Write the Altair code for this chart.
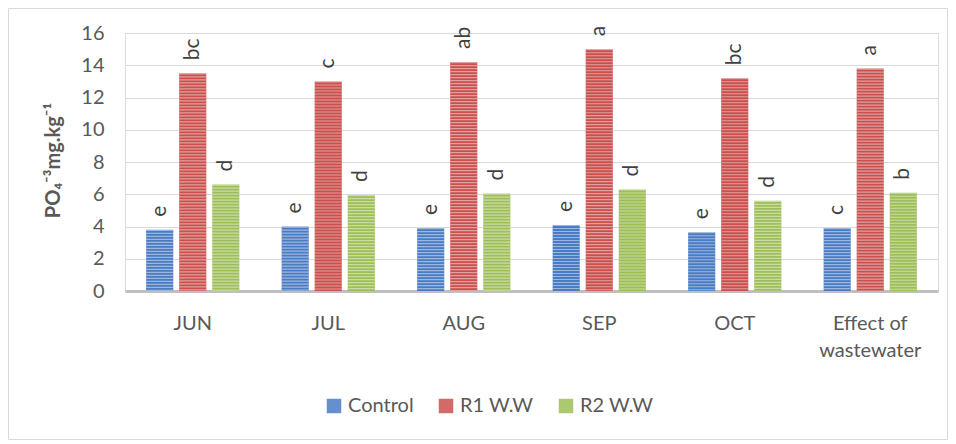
import altair as alt
import pandas as pd

months = ["JUN", "JUL", "AUG", "SEP", "OCT", "Effect of\nwastewater"]
series = ["Control", "R1 W.W", "R2 W.W"]
control = [3.8, 4.0, 3.9, 4.1, 3.65, 3.9]
r1 = [13.5, 13.0, 14.2, 15.0, 13.2, 13.8]
r2 = [6.6, 5.95, 6.05, 6.3, 5.6, 6.1]
let_control = ["e", "e", "e", "e", "e", "c"]
let_r1 = ["bc", "c", "ab", "a", "bc", "a"]
let_r2 = ["d", "d", "d", "d", "d", "b"]
colors = ["#4a7cc4", "#c9504d", "#9ebf58"]

rows = []
for i, m in enumerate(months):
    for s, vals, lets in zip(series, [control, r1, r2], [let_control, let_r1, let_r2]):
        rows.append({"month": m, "series": s, "value": vals[i], "letter": lets[i]})
df = pd.DataFrame(rows)

FONT = "Lato, DejaVu Sans, sans-serif"

x = alt.X("month:N", sort=months,
          scale=alt.Scale(paddingInner=0, paddingOuter=0),
          axis=alt.Axis(title=None, labelExpr="split(datum.label, '\\n')",
                        labelAngle=0, labelFontSize=20, labelColor="#595959",
                        labelFont=FONT, labelPadding=22, labelLineHeight=27,
                        ticks=False, domainColor="#bfbfbf", domainWidth=3))
xo = alt.XOffset("series:N", sort=series,
                 scale=alt.Scale(paddingInner=0.18, paddingOuter=0.64))
y = alt.Y("value:Q", scale=alt.Scale(domain=[0, 16]),
          axis=alt.Axis(values=list(range(0, 17, 2)), title="PO₄⁻³mg.kg⁻¹",
                        titleFont=FONT, titleFontSize=20, titleFontWeight="bold",
                        titleColor="#595959", titleX=-72, titleY=127,
                        titleAlign="center", titleBaseline="middle", titleAngle=270,
                        labelFontSize=20, labelColor="#595959", labelFont=FONT,
                        labelPadding=21, ticks=False, domain=False,
                        gridColor="#d9d9d9", gridWidth=1))

base = alt.Chart(df)

bars = base.mark_bar().encode(
    x=x, xOffset=xo, y=y,
    color=alt.Color("series:N", sort=series,
                    scale=alt.Scale(domain=series, range=colors),
                    legend=alt.Legend(title=None, orient="none", direction="horizontal",
                                      legendX=199, legendY=363, symbolType="square",
                                      symbolSize=210, symbolStrokeWidth=0,
                                      labelFontSize=20, labelColor="#595959",
                                      labelFont=FONT, columnPadding=22,
                                      labelOffset=4, symbolOpacity=0.85)),
)

stripes = base.mark_rule(strokeWidth=27, strokeDash=[1.2, 1.8], color="white",
                         opacity=0.45, strokeCap="butt").encode(
    x=x, xOffset=xo, y=y, y2=alt.datum(0)
)

labels = base.mark_text(angle=270, align="left", baseline="middle", dx=13,
                        fontSize=21, color="#404040", font=FONT).encode(
    x=x, xOffset=xo, y=y, text="letter:N"
)

border_df = pd.DataFrame({"k": [0]})
border = alt.Chart(border_df).mark_rect(fill="transparent", stroke="#d9d9d9",
                                        strokeWidth=1, clip=False).encode(
    x=alt.value(-116.5), x2=alt.value(822.5), y=alt.value(-24.5), y2=alt.value(406.5)
)

chart = alt.layer(border, bars, stripes, labels).properties(
    width=813, height=258,
    autosize=alt.AutoSizeParams(type="none"),
    padding={"left": 117, "top": 25, "right": 10, "bottom": 149},
).configure_view(stroke=None).configure(background="white")

chart.save("out.html", embed_options={"renderer": "svg", "actions": False})
